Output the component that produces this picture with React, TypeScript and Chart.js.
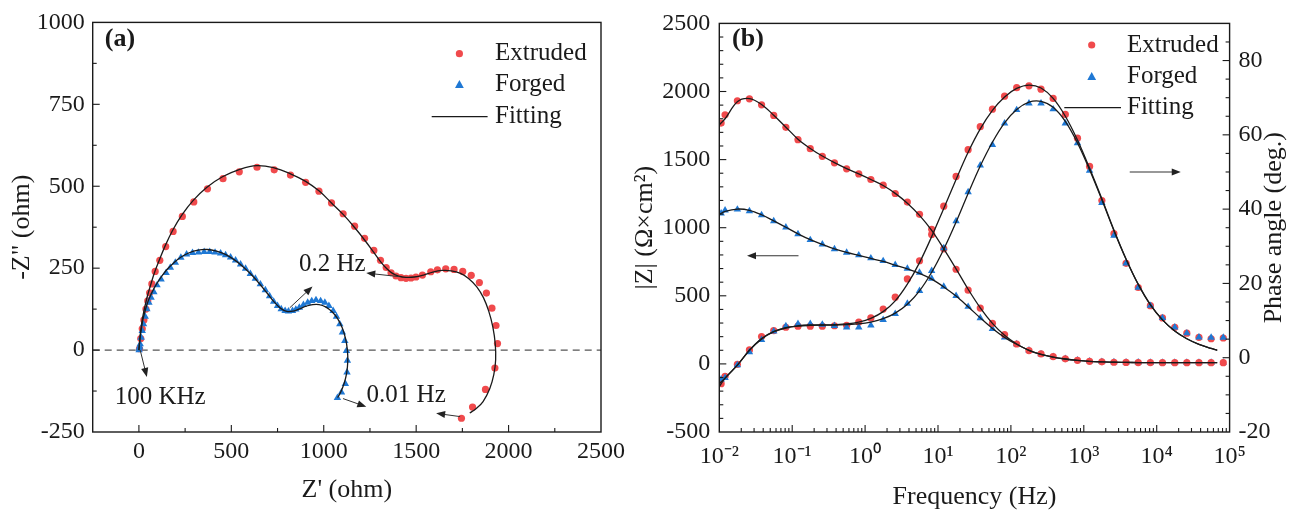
import React, { useEffect, useRef } from "react";
import { Chart, registerables } from "chart.js";

Chart.register(...registerables);

// ---------------- Panel (a): Nyquist plot ----------------
const extrudedZre = [3, 10, 18, 27, 38, 48, 58, 70, 88, 113, 145, 185, 235, 297, 371, 455, 543, 639, 732, 820, 902, 974, 1042, 1105, 1167, 1221, 1271, 1307, 1338, 1364, 1391, 1418, 1445, 1472, 1499, 1534, 1579, 1615, 1660, 1705, 1752, 1798, 1842, 1880, 1910, 1932, 1940, 1926, 1875, 1805, 1745];
const extrudedZim = [4, 35, 65, 92, 125, 150, 175, 202, 240, 274, 316, 362, 408, 452, 492, 523, 544, 558, 550, 534, 512, 485, 449, 416, 378, 341, 304, 274, 252, 236, 226, 221, 219, 220, 223, 229, 239, 245, 248, 246, 240, 228, 206, 174, 128, 75, 20, -55, -120, -174, -208];

const forgedZre = [1, 2, 4, 7, 12, 18, 25, 34, 43, 54, 66, 81, 98, 120, 147, 170, 197, 227, 258, 290, 322, 353, 383, 412, 442, 469, 496, 523, 550, 577, 603, 630, 657, 684, 707, 729, 750, 770, 791, 809, 831, 849, 868, 890, 913, 935, 958, 983, 1006, 1028, 1051, 1069, 1087, 1101, 1114, 1123, 1128, 1126, 1117, 1096, 1074];
const forgedZim = [0, 5, 11, 18, 38, 59, 79, 102, 125, 145, 160, 177, 198, 216, 236, 252, 267, 282, 292, 297, 298, 300, 300, 298, 295, 290, 283, 274, 262, 249, 233, 218, 201, 183, 165, 148, 135, 125, 120, 118, 120, 124, 130, 138, 145, 150, 153, 150, 145, 135, 120, 102, 79, 54, 28, -2, -32, -68, -103, -129, -146];

const fitExtrudedZre = [0, 3, 7, 13, 21, 32, 46, 63, 84, 110, 142, 182, 232, 294, 368, 452, 542, 638, 732, 820, 902, 974, 1042, 1105, 1167, 1221, 1271, 1307, 1340, 1370, 1405, 1445, 1490, 1540, 1590, 1640, 1690, 1740, 1785, 1828, 1864, 1893, 1915, 1928, 1930, 1920, 1898, 1862, 1825, 1790];
const fitExtrudedZim = [0, 20, 45, 73, 102, 132, 165, 198, 236, 274, 318, 365, 412, 457, 497, 529, 551, 563, 556, 538, 515, 486, 449, 414, 374, 336, 298, 270, 249, 235, 226, 222, 223, 229, 238, 243, 242, 234, 218, 193, 160, 118, 70, 18, -30, -75, -118, -157, -178, -192];

const fitForgedZre = [0, 3, 7, 13, 20, 30, 42, 56, 74, 96, 122, 152, 188, 228, 272, 320, 370, 420, 468, 515, 560, 605, 650, 692, 730, 765, 800, 835, 870, 905, 940, 975, 1010, 1045, 1075, 1100, 1118, 1128, 1130, 1124, 1110, 1092, 1075];
const fitForgedZim = [0, 20, 42, 65, 88, 112, 136, 158, 180, 202, 224, 246, 266, 284, 297, 305, 307, 302, 292, 276, 256, 232, 204, 175, 148, 128, 118, 119, 126, 134, 139, 139, 132, 117, 96, 68, 35, 0, -35, -70, -102, -128, -145];

const xTicksA = [0, 500, 1000, 1500, 2000, 2500];
const xTickLabelsA = ["0", "500", "1000", "1500", "2000", "2500"];
const xMinorA = [250, 750, 1250, 1750, 2250];
const yTicksA = [-250, 0, 250, 500, 750, 1000];
const yTickLabelsA = ["-250", "0", "250", "500", "750", "1000"];
const yMinorA = [-125, 125, 375, 625, 875];

const notesA = [
  { text: "0.2 Hz", x: 1046, y: 261 },
  { text: "100 KHz", x: 115, y: -143 },
  { text: "0.01 Hz", x: 1446, y: -137 },
];
const arrowsA = [
  { x1: 1410, y1: 224, x2: 1230, y2: 235 },
  { x1: 816, y1: 129, x2: 939, y2: 194 },
  { x1: 7, y1: 0, x2: 43, y2: -82 },
  { x1: 1104, y1: -148, x2: 1230, y2: -173 },
  { x1: 1738, y1: -203, x2: 1608, y2: -193 },
];

// ---------------- Panel (b): Bode plot ----------------
const freqHz = [0.0106, 0.012, 0.0177, 0.0259, 0.038, 0.0558, 0.0819, 0.12, 0.177, 0.259, 0.38, 0.558, 0.819, 1.2, 1.77, 2.59, 3.8, 5.58, 8.19, 12, 17.7, 25.9, 38, 55.8, 81.9, 120, 177, 259, 380, 558, 819, 1200, 1770, 2590, 3800, 5580, 8190, 12000, 17700, 25900, 38000, 55800, 81900];
const extrudedModZ = [1768, 1829, 1932, 1946, 1902, 1824, 1737, 1646, 1580, 1524, 1476, 1432, 1395, 1354, 1312, 1251, 1188, 1098, 988, 845, 695, 541, 410, 298, 215, 146, 98, 73, 54, 37, 26, 19, 15, 12, 11, 10, 10, 9, 9, 9, 9, 9, 9];
const forgedModZ = [1105, 1127, 1134, 1122, 1093, 1049, 1003, 953, 910, 878, 843, 817, 798, 776, 756, 727, 700, 671, 627, 568, 500, 420, 337, 258, 195, 146, 100, 72, 52, 37, 27, 20, 16, 13, 12, 11, 10, 10, 10, 9, 9, 9, 9];
const extrudedPhase = [-7.0, -5.0, -1.8, 2.1, 5.7, 7.3, 8.2, 8.5, 8.5, 8.5, 8.6, 8.7, 9.6, 10.7, 13.1, 16.3, 21.2, 26.1, 33.2, 40.8, 48.8, 56.0, 62.2, 66.9, 70.4, 72.7, 73.2, 72.3, 69.8, 65.5, 59.1, 51.5, 42.3, 33.4, 25.4, 18.9, 14.0, 10.7, 8.2, 6.6, 5.5, 5.1, 5.3];
const forgedPhase = [-5.8, -5.4, -2.0, 1.5, 4.8, 7.1, 8.5, 9.1, 9.1, 8.9, 8.6, 8.2, 8.2, 8.7, 10.2, 11.8, 14.6, 18.0, 23.4, 29.5, 36.8, 44.6, 51.8, 57.3, 63.1, 66.7, 68.5, 68.5, 66.9, 63.1, 57.8, 50.4, 41.7, 32.9, 25.4, 18.9, 14.0, 10.7, 8.2, 6.6, 5.5, 5.4, 5.4];

const fitFreqHz = [0.01, 0.012, 0.0177, 0.0259, 0.038, 0.0558, 0.0819, 0.12, 0.177, 0.259, 0.38, 0.558, 0.819, 1.2, 1.77, 2.59, 3.8, 5.58, 8.19, 12, 17.7, 25.9, 38, 55.8, 81.9, 120, 177, 259, 380, 558, 819, 1200, 1770, 2590, 3800, 5580, 8190, 12000, 17700, 25900, 38000, 55800, 67600];
const fitExtrudedModZ = [1756, 1800, 1925, 1948, 1905, 1826, 1738, 1650, 1582, 1526, 1478, 1434, 1395, 1354, 1310, 1252, 1180, 1090, 980, 845, 698, 548, 412, 298, 210, 146, 100, 70, 50, 36, 26, 19, 15, 12, 11, 10, 10, 9, 9, 9, 9, 9, 9];
const fitForgedModZ = [1098, 1120, 1137, 1128, 1095, 1050, 1003, 955, 912, 878, 845, 818, 796, 774, 752, 725, 697, 665, 622, 565, 498, 420, 338, 260, 195, 144, 100, 70, 50, 36, 26, 19, 15, 12, 11, 10, 10, 9, 9, 9, 9, 9, 9];
const fitExtrudedPhase = [-7.8, -5.5, -2.0, 2.0, 5.2, 7.0, 8.0, 8.5, 8.7, 8.8, 8.9, 9.1, 9.6, 10.6, 12.4, 15.3, 19.8, 25.6, 32.6, 40.2, 48.0, 55.3, 61.6, 66.6, 70.2, 72.5, 73.4, 72.6, 69.8, 65.0, 58.6, 51.0, 42.8, 34.4, 26.6, 19.8, 14.3, 10.2, 7.2, 5.1, 3.6, 2.5, 2.0];
const fitForgedPhase = [-7.0, -5.5, -2.0, 2.0, 5.0, 7.0, 8.1, 8.6, 8.8, 8.8, 8.8, 8.9, 9.1, 9.6, 10.5, 12.0, 14.4, 18.0, 23.0, 29.2, 36.5, 44.2, 51.6, 58.0, 63.2, 66.8, 68.8, 69.0, 67.4, 63.6, 57.8, 50.6, 42.5, 34.2, 26.5, 19.7, 14.2, 10.2, 7.2, 5.1, 3.6, 2.5, 2.0];

const xTicksB = [0.01, 0.1, 1, 10, 100, 1000, 10000, 100000];
const xTickLabelsB = ["10\u207B\u00B2", "10\u207B\u00B9", "10\u2070", "10\u00B9", "10\u00B2", "10\u00B3", "10\u2074", "10\u2075"];
const yTicksB = [-500, 0, 500, 1000, 1500, 2000, 2500];
const yTickLabelsB = ["-500", "0", "500", "1000", "1500", "2000", "2500"];
const y1TicksB = [-20, 0, 20, 40, 60, 80];
const y1TickLabelsB = ["-20", "0", "20", "40", "60", "80"];

const arrowsB = [
  { axis: "y", x1: 0.122, y1: 794, x2: 0.024, y2: 794 },
  { axis: "y1", x1: 4266, y1: 50, x2: 21380, y2: 50 },
];

const legendLabels = ["Extruded", "Forged", "Fitting"];

// ---------------- styling ----------------
const SERIF = '"Liberation Serif", "Times New Roman", Times, serif';
const RED = "#f04a4c";
const BLUE = "#1f78d4";
const INK = "#1a1a1a";

const pts = (xs: number[], ys: number[]) => xs.map((x, i) => ({ x, y: ys[i] }));

function drawArrow(ctx: CanvasRenderingContext2D, x1: number, y1: number, x2: number, y2: number) {
  const ang = Math.atan2(y2 - y1, x2 - x1);
  const head = 9;
  const hw = 3.6;
  ctx.beginPath();
  ctx.moveTo(x1, y1);
  ctx.lineTo(x2 - Math.cos(ang) * head * 0.7, y2 - Math.sin(ang) * head * 0.7);
  ctx.stroke();
  ctx.beginPath();
  ctx.moveTo(x2, y2);
  ctx.lineTo(x2 - head * Math.cos(ang) + hw * Math.sin(ang), y2 - head * Math.sin(ang) - hw * Math.cos(ang));
  ctx.lineTo(x2 - head * Math.cos(ang) - hw * Math.sin(ang), y2 - head * Math.sin(ang) + hw * Math.cos(ang));
  ctx.closePath();
  ctx.fill();
}

function drawTriangle(ctx: CanvasRenderingContext2D, x: number, y: number) {
  ctx.beginPath();
  ctx.moveTo(x, y - 4.6);
  ctx.lineTo(x - 4.4, y + 3.4);
  ctx.lineTo(x + 4.4, y + 3.4);
  ctx.closePath();
  ctx.fill();
}

type LegendPos = { symbolDx: number; textDx: number; lineFrom: number; lineTo: number; rows: number[] };

function drawLegend(ctx: CanvasRenderingContext2D, a: any, L: LegendPos) {
  const ys = L.rows.map((r) => a.top + r);
  ctx.fillStyle = RED;
  ctx.beginPath();
  ctx.arc(a.right + L.symbolDx, ys[0], 3.6, 0, Math.PI * 2);
  ctx.fill();
  ctx.fillStyle = BLUE;
  drawTriangle(ctx, a.right + L.symbolDx, ys[1]);
  ctx.strokeStyle = INK;
  ctx.lineWidth = 1.3;
  ctx.beginPath();
  ctx.moveTo(a.right + L.lineFrom, ys[2]);
  ctx.lineTo(a.right + L.lineTo, ys[2]);
  ctx.stroke();
  ctx.fillStyle = INK;
  ctx.font = `25px ${SERIF}`;
  ctx.textAlign = "left";
  ctx.textBaseline = "middle";
  legendLabels.forEach((t, i) => ctx.fillText(t, a.right + L.textDx, ys[i]));
}

function frameAndTicks(chart: any, spec: { xMajor: number[]; xMinor: number[]; yMajor: number[]; yMinor: number[]; y1Major?: number[]; y1Minor?: number[] }) {
  const { ctx, chartArea: a, scales } = chart;
  ctx.strokeStyle = INK;
  ctx.lineWidth = 1.4;
  ctx.strokeRect(a.left, a.top, a.right - a.left, a.bottom - a.top);
  ctx.lineWidth = 1.1;
  const seg = (x1: number, y1: number, x2: number, y2: number) => {
    ctx.beginPath();
    ctx.moveTo(x1, y1);
    ctx.lineTo(x2, y2);
    ctx.stroke();
  };
  const inX = (p: number) => p > a.left + 0.5 && p < a.right - 0.5;
  const inY = (p: number) => p > a.top + 0.5 && p < a.bottom - 0.5;
  const xs = scales.x;
  spec.xMajor.forEach((v) => { const p = xs.getPixelForValue(v); if (inX(p)) seg(p, a.bottom, p, a.bottom - 7); });
  spec.xMinor.forEach((v) => { const p = xs.getPixelForValue(v); if (inX(p)) seg(p, a.bottom, p, a.bottom - 4); });
  const ys = scales.y;
  spec.yMajor.forEach((v) => { const p = ys.getPixelForValue(v); if (inY(p)) seg(a.left, p, a.left + 7, p); });
  spec.yMinor.forEach((v) => { const p = ys.getPixelForValue(v); if (inY(p)) seg(a.left, p, a.left + 4, p); });
  if (spec.y1Major && scales.y1) {
    const y1 = scales.y1;
    spec.y1Major.forEach((v) => { const p = y1.getPixelForValue(v); if (inY(p)) seg(a.right, p, a.right - 7, p); });
    (spec.y1Minor || []).forEach((v) => { const p = y1.getPixelForValue(v); if (inY(p)) seg(a.right, p, a.right - 4, p); });
  }
}

const tickFont = { family: SERIF, size: 24 };
const titleFont = { family: SERIF, size: 26 };

function makeChartA(canvas: HTMLCanvasElement) {
  const decor = {
    id: "decorA",
    afterDatasetsDraw(chart: any) {
      const { ctx, chartArea: a, scales } = chart;
      ctx.save();
      frameAndTicks(chart, { xMajor: xTicksA, xMinor: xMinorA, yMajor: yTicksA, yMinor: yMinorA });
      ctx.fillStyle = INK;
      ctx.font = `bold 26px ${SERIF}`;
      ctx.textAlign = "center";
      ctx.textBaseline = "middle";
      ctx.fillText("(a)", a.left + 27.3, a.top + 17);
      ctx.font = `25px ${SERIF}`;
      notesA.forEach((n) => ctx.fillText(n.text, scales.x.getPixelForValue(n.x), scales.y.getPixelForValue(n.y)));
      ctx.strokeStyle = "#333";
      ctx.fillStyle = "#222";
      ctx.lineWidth = 1;
      arrowsA.forEach((r) =>
        drawArrow(ctx, scales.x.getPixelForValue(r.x1), scales.y.getPixelForValue(r.y1), scales.x.getPixelForValue(r.x2), scales.y.getPixelForValue(r.y2))
      );
      drawLegend(ctx, a, { symbolDx: -141.6, textDx: -106, lineFrom: -169.3, lineTo: -113.4, rows: [31.3, 62.3, 94.3] });
      ctx.restore();
    },
  };

  return new Chart(canvas, {
    type: "scatter",
    data: {
      datasets: [
        { label: "Fitting", data: pts(fitExtrudedZre, fitExtrudedZim), showLine: true, borderColor: INK, borderWidth: 1.3, pointRadius: 0, tension: 0.4 },
        { label: "Fitting (forged)", data: pts(fitForgedZre, fitForgedZim), showLine: true, borderColor: INK, borderWidth: 1.3, pointRadius: 0, tension: 0.4 },
        { label: "Forged", data: pts(forgedZre, forgedZim), pointStyle: "triangle", pointRadius: 4.3, pointBackgroundColor: BLUE, pointBorderColor: BLUE, pointBorderWidth: 0 },
        { label: "Extruded", data: pts(extrudedZre, extrudedZim), pointStyle: "circle", pointRadius: 3.6, pointBackgroundColor: RED, pointBorderColor: RED, pointBorderWidth: 0 },
        { label: "zero", data: [{ x: -250, y: 0 }, { x: 2500, y: 0 }], showLine: true, borderColor: "#555", borderWidth: 1.2, borderDash: [7, 5], pointRadius: 0 },
      ] as any,
    },
    options: {
      responsive: false,
      animation: false,
      events: [],
      layout: { padding: { top: 21, right: 28, left: 0, bottom: 0 } },
      plugins: { legend: { display: false }, tooltip: { enabled: false } },
      scales: {
        x: {
          type: "linear",
          min: -250,
          max: 2500,
          afterBuildTicks: (s: any) => { s.ticks = xTicksA.map((v) => ({ value: v })); },
          afterFit: (s: any) => { s.height = 82; },
          grid: { display: false, drawTicks: false },
          border: { display: false },
          ticks: { font: tickFont, color: INK, padding: 5, maxRotation: 0, autoSkip: false, callback: (_v: any, i: number) => xTickLabelsA[i] },
          title: { display: true, text: "Z' (ohm)", font: titleFont, color: INK, padding: { top: 0, bottom: 8 } },
        },
        y: {
          type: "linear",
          min: -250,
          max: 1000,
          afterBuildTicks: (s: any) => { s.ticks = yTicksA.map((v) => ({ value: v })); },
          afterFit: (s: any) => { s.width = 92.7; },
          grid: { display: false, drawTicks: false },
          border: { display: false },
          ticks: { font: tickFont, color: INK, padding: 8, autoSkip: false, callback: (_v: any, i: number) => yTickLabelsA[i] },
          title: { display: true, text: '-Z" (ohm)', font: titleFont, color: INK, padding: { top: 7, bottom: 0 } },
        },
      },
    } as any,
    plugins: [decor],
  });
}

function makeChartB(canvas: HTMLCanvasElement) {
  const decor = {
    id: "decorB",
    afterDatasetsDraw(chart: any) {
      const { ctx, chartArea: a, scales } = chart;
      ctx.save();
      const minorX: number[] = [];
      for (let k = 0; k < xTicksB.length - 1; k++) for (let m = 2; m <= 9; m++) minorX.push(xTicksB[k] * m);
      const minorY: number[] = [];
      for (let v = -400; v < 2500; v += 100) if (v % 500 !== 0) minorY.push(v);
      const minorY1: number[] = [];
      for (let v = -15; v <= 90; v += 5) if (v % 20 !== 0) minorY1.push(v);
      frameAndTicks(chart, { xMajor: xTicksB, xMinor: minorX, yMajor: yTicksB, yMinor: minorY, y1Major: y1TicksB, y1Minor: minorY1 });
      ctx.fillStyle = INK;
      ctx.font = `bold 26px ${SERIF}`;
      ctx.textAlign = "center";
      ctx.textBaseline = "middle";
      ctx.fillText("(b)", a.left + 28.7, a.top + 16.3);
      // right-hand axis title, reading bottom to top
      ctx.save();
      ctx.translate(a.right + 44.4, (a.top + a.bottom) / 2);
      ctx.rotate(-Math.PI / 2);
      ctx.font = `26px ${SERIF}`;
      ctx.fillText("Phase angle (deg.)", 0, 0);
      ctx.restore();
      ctx.strokeStyle = "#333";
      ctx.fillStyle = "#222";
      ctx.lineWidth = 1.1;
      arrowsB.forEach((r) => {
        const ys = scales[r.axis];
        drawArrow(ctx, scales.x.getPixelForValue(r.x1), ys.getPixelForValue(r.y1), scales.x.getPixelForValue(r.x2), ys.getPixelForValue(r.y2));
      });
      drawLegend(ctx, a, { symbolDx: -137.9, textDx: -102.6, lineFrom: -165.3, lineTo: -108.6, rows: [21.6, 53.3, 84.3] });
      ctx.restore();
    },
  };

  const fitLine = (ys: number[], axis: string) => ({
    label: "Fitting",
    data: pts(fitFreqHz, ys),
    yAxisID: axis,
    showLine: true,
    borderColor: INK,
    borderWidth: 1.3,
    pointRadius: 0,
    tension: 0.35,
  });
  const marks = (label: string, ys: number[], axis: string, style: string, color: string, r: number) => ({
    label,
    data: pts(freqHz, ys),
    yAxisID: axis,
    pointStyle: style,
    pointRadius: r,
    pointBackgroundColor: color,
    pointBorderColor: color,
    pointBorderWidth: 0,
  });

  return new Chart(canvas, {
    type: "scatter",
    data: {
      datasets: [
        fitLine(fitExtrudedModZ, "y"),
        fitLine(fitForgedModZ, "y"),
        fitLine(fitExtrudedPhase, "y1"),
        fitLine(fitForgedPhase, "y1"),
        marks("Forged phase", forgedPhase, "y1", "triangle", BLUE, 4.3),
        marks("Extruded |Z|", extrudedModZ, "y", "circle", RED, 3.6),
        marks("Extruded phase", extrudedPhase, "y1", "circle", RED, 3.6),
        marks("Forged |Z|", forgedModZ, "y", "triangle", BLUE, 4.3),
      ] as any,
    },
    options: {
      responsive: false,
      animation: false,
      events: [],
      layout: { padding: { top: 21.7, right: 0, left: 0, bottom: 0 } },
      plugins: { legend: { display: false }, tooltip: { enabled: false } },
      scales: {
        x: {
          type: "logarithmic",
          min: 0.01,
          max: 100000,
          afterBuildTicks: (s: any) => { s.ticks = xTicksB.map((v) => ({ value: v })); },
          afterFit: (s: any) => { s.height = 82; },
          grid: { display: false, drawTicks: false },
          border: { display: false },
          ticks: { font: tickFont, color: INK, padding: 10, maxRotation: 0, autoSkip: false, callback: (_v: any, i: number) => xTickLabelsB[i] },
          title: { display: true, text: "Frequency (Hz)", font: titleFont, color: INK, padding: { top: 0, bottom: 1 } },
        },
        y: {
          type: "linear",
          position: "left",
          min: -500,
          max: 2500,
          afterBuildTicks: (s: any) => { s.ticks = yTicksB.map((v) => ({ value: v })); },
          afterFit: (s: any) => { s.width = 89.3; },
          grid: { display: false, drawTicks: false },
          border: { display: false },
          ticks: { font: tickFont, color: INK, padding: 9, autoSkip: false, callback: (_v: any, i: number) => yTickLabelsB[i] },
          title: { display: true, text: "|Z| (\u03A9\u00D7cm\u00B2)", font: titleFont, color: INK, padding: { top: 0, bottom: 0 } },
        },
        y1: {
          type: "linear",
          position: "right",
          min: -20,
          max: 90,
          afterBuildTicks: (s: any) => { s.ticks = y1TicksB.map((v) => ({ value: v })); },
          afterFit: (s: any) => { s.width = 67.4; },
          grid: { display: false, drawTicks: false },
          border: { display: false },
          ticks: { font: tickFont, color: INK, padding: 9, autoSkip: false, callback: (_v: any, i: number) => y1TickLabelsB[i] },
          title: { display: false },
        },
      },
    } as any,
    plugins: [decor],
  });
}

export default function App() {
  const refA = useRef<HTMLCanvasElement | null>(null);
  const refB = useRef<HTMLCanvasElement | null>(null);

  useEffect(() => {
    if (!refA.current || !refB.current) return;
    const a = makeChartA(refA.current);
    const b = makeChartB(refB.current);
    return () => {
      a.destroy();
      b.destroy();
    };
  }, []);

  return (
    <div style={{ position: "absolute", left: 0, top: 0, width: 1297, height: 514, background: "#fff", overflow: "hidden" }}>
      <canvas ref={refA} width={630} height={514} style={{ position: "absolute", left: 0, top: 0, width: 630, height: 514 }} />
      <canvas ref={refB} width={667} height={514} style={{ position: "absolute", left: 630, top: 0, width: 667, height: 514 }} />
    </div>
  );
}
